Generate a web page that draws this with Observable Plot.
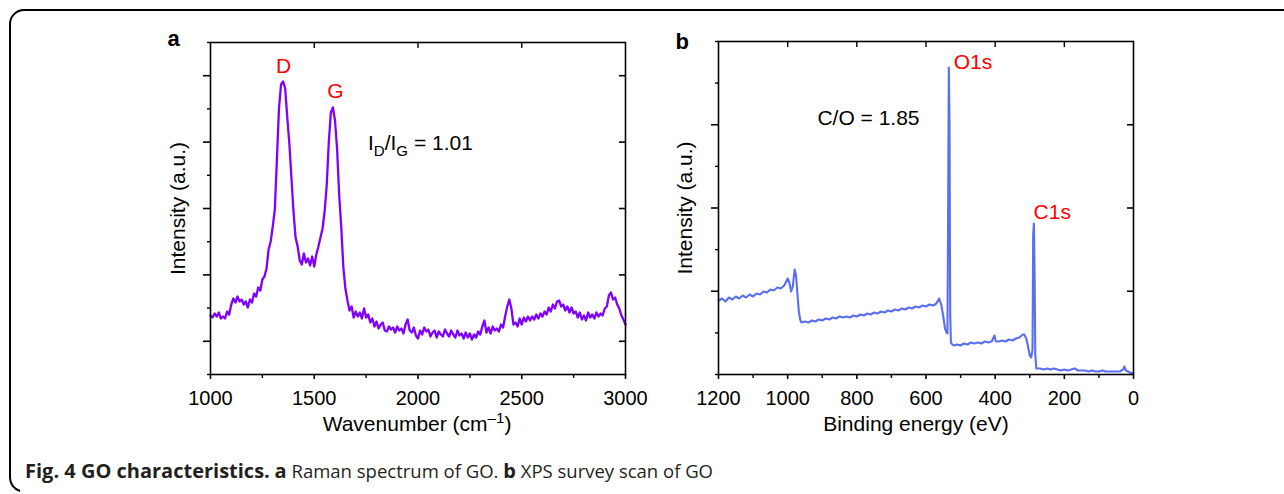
<!DOCTYPE html>
<html>
<head>
<meta charset="utf-8">
<script src="https://cdn.jsdelivr.net/npm/d3@7"></script>
<script src="https://cdn.jsdelivr.net/npm/@observablehq/plot@0.6"></script>
<style>
  html, body { margin: 0; padding: 0; background: #fff; }
  #wrap { position: relative; width: 1284px; height: 494px; overflow: hidden; background: #fff; }
  #frame { position: absolute; left: 0; top: 0; }
  .panel { position: absolute; top: 0; }
  #caption { position: absolute; left: 25px; top: 461px; line-height: 20px; font-family: "Open Sans", sans-serif; font-size: 18.5px; color: #231f20; white-space: nowrap; }
  #caption b { font-weight: 700; font-size: 20px; }
</style>
</head>
<body>
<div id="wrap">
  <svg id="frame" width="1284" height="494"><path d="M1290,10 H24 A14,14 0 0 0 10,24 V478 A14,14 0 0 0 20,491" fill="none" stroke="#000" stroke-width="2"/></svg>
  <div id="panelA" class="panel" style="left:0px"></div>
  <div id="panelB" class="panel" style="left:650px"></div>
  <div id="caption"><b>Fig. 4 GO characteristics.</b> <b>a</b> Raman spectrum of GO. <b>b</b> XPS survey scan of GO</div>
</div>
<script>
// ---------- Panel a: Raman spectrum ----------
const ramanWavenumber = [
  1000,1010,1020,1030,1040,1050,1060,1070,1080,1090,1100,1110,1120,1130,1140,1150,1160,1170,1180,1190,
  1200,1210,1220,1230,1240,1250,1260,1270,1280,1290,1300,1310,1320,1330,1340,1350,1360,1370,1380,1390,
  1400,1410,1420,1430,1440,1450,1460,1470,1480,1490,1500,1510,1520,1530,1540,1550,1560,1570,1580,1590,
  1600,1610,1620,1630,1640,1650,1660,1670,1680,1690,1700,1710,1720,1730,1740,1750,1760,1770,1780,1790,
  1800,1810,1820,1830,1840,1850,1860,1870,1880,1890,1900,1910,1920,1930,1940,1950,1960,1970,1980,1990,
  2000,2010,2020,2030,2040,2050,2060,2070,2080,2090,2100,2110,2120,2130,2140,2150,2160,2170,2180,2190,
  2200,2210,2220,2230,2240,2250,2260,2270,2280,2290,2300,2310,2320,2330,2340,2350,2360,2370,2380,2390,
  2400,2410,2420,2430,2440,2450,2460,2470,2480,2490,2500,2510,2520,2530,2540,2550,2560,2570,2580,2590,
  2600,2610,2620,2630,2640,2650,2660,2670,2680,2690,2700,2710,2720,2730,2740,2750,2760,2770,2780,2790,
  2800,2810,2820,2830,2840,2850,2860,2870,2880,2890,2900,2910,2920,2930,2940,2950,2960,2970,2980,2990,
  3000
];
const ramanIntensity = [
  59,57,61,58,62,56,58,56,63,60,70,76,72,78,73,75,70,73,67,75,
  72,81,78,87,84,95,98,106,125,133,148,165,215,266,290,293,286,257,231,197,
  163,137,128,114,110,121,112,116,109,118,108,120,128,137,146,163,189,232,262,267,
  254,226,180,148,108,86,74,64,68,57,63,58,62,56,66,57,60,52,56,48,
  53,46,50,52,44,43,48,45,47,42,48,44,46,41,50,55,44,42,47,39,
  36,44,40,47,43,45,38,42,44,37,43,40,38,45,41,38,44,40,37,44,
  39,41,36,42,37,41,35,40,37,43,40,48,54,42,47,41,48,44,46,43,
  50,47,58,68,75,66,50,52,48,56,50,57,53,58,54,58,55,60,56,61,
  58,63,60,67,63,70,66,73,74,68,70,64,68,62,67,61,63,57,62,55,
  59,54,62,57,60,56,62,58,61,59,66,68,79,82,75,77,70,66,59,55,
  50
];
const ramanXTicks = [1000, 1500, 2000, 2500, 3000];
const ramanXMinor = [1250, 1750, 2250, 2750];
const ramanXTop = [1500, 2000, 2500];
const ramanYMajor = [33.2, 99.6, 166, 232.4, 298.8];
const ramanYMinor = [0, 66.4, 132.8, 199.2, 265.6, 332];
const ramanPeakLabels = ["D", "G"];
const ramanPeakX = [1352, 1602];
const ramanPeakY = [302, 277];

// ---------- Panel b: XPS survey ----------
const xpsEnergy = [
  1200,1190,1180,1170,1160,1150,1140,1130,1120,1110,1100,1090,1080,1070,1060,1050,1040,1030,1020,1010,
  1000,995,990,985,980,976,972,968,964,960,950,940,930,920,910,900,890,880,870,860,
  850,840,830,820,810,800,790,780,770,760,750,740,730,720,710,700,690,680,670,660,
  650,640,630,620,610,600,590,580,570,562,556,550,545,541,538,536,534,532,530,528,
  524,520,510,500,490,480,470,460,450,440,430,420,410,402,398,390,380,370,360,350,
  340,330,320,316,310,305,300,296,292,290,288,286,284,281,270,260,250,240,230,220,
  210,200,190,180,170,160,150,140,130,120,110,100,90,80,70,60,50,40,30,26,
  22,10,0
];
const xpsIntensity = [
  74,76,73,77,75,78,76,79,77,80,78,81,80,83,82,85,84,87,86,89,
  96,92,83,88,105,100,82,64,55,52,53,52,54,53,55,54,56,55,57,56,
  58,57,58,57,59,58,60,59,61,60,62,61,63,62,64,63,65,64,66,65,
  67,66,68,67,69,68,70,69,71,76,70,58,46,42,41,160,307,250,60,32,
  30,29,30,29,31,30,32,31,32,31,33,32,33,39,33,33,34,33,35,34,
  36,37,40,40,36,28,19,17,25,140,151,100,20,6,6,5,6,5,6,5,
  4,5,4,5,6,4,4,4,3,4,3,3,4,3,3,3,3,3,5,8,
  4,2,1
];
const xpsXTicks = [1200, 1000, 800, 600, 400, 200, 0];
const xpsXMinor = [1100, 900, 700, 500, 300, 100];
const xpsXTop = [1000, 800, 600, 400, 200];
const xpsYMajor = [83.25, 166.5, 249.75];
const xpsYMinor = [0, 41.6, 124.9, 208.1, 291.4, 333];
const xpsPeakLabels = ["O1s", "C1s"];
const xpsPeakX = [520, 289];
const xpsPeakY = [306, 156];

const FONT = "'Liberation Sans', Arial, Helvetica, sans-serif";
const none = () => "";

function richText(svg, x, y, parts, {fontSize = 21, fill = "#000", anchor = "start", weight = "normal"} = {}) {
  const t = d3.select(svg).append("text")
    .attr("x", x).attr("y", y)
    .attr("text-anchor", anchor)
    .attr("font-family", FONT)
    .attr("font-size", fontSize)
    .attr("font-weight", weight)
    .attr("fill", fill);
  let shift = 0;
  for (const p of parts) {
    const ts = t.append("tspan").text(p.t);
    const target = p.sub ? 6 : p.sup ? -8 : 0;
    if (target !== shift) { ts.attr("dy", target - shift); shift = target; }
    if (p.sub || p.sup) ts.attr("font-size", fontSize * 0.72);
  }
  return t;
}

function frameAxes(xMajor, xMinor, xTop, yMajor, yMinor) {
  return [
    Plot.frame({stroke: "#000", strokeWidth: 1.6}),
    Plot.axisX({anchor: "bottom", ticks: xMajor, tickSize: 5, tickPadding: 11, strokeWidth: 1.6, tickFormat: d => String(d), label: null, fontSize: 20}),
    Plot.axisX({anchor: "bottom", ticks: xMinor, tickSize: 4, strokeWidth: 1.4, tickFormat: none, label: null}),
    Plot.axisX({anchor: "top", ticks: xTop, tickSize: 5, dy: 5, strokeWidth: 1.4, tickFormat: none, label: null}),
    Plot.axisY({anchor: "left", ticks: yMajor, tickSize: 7, strokeWidth: 1.6, tickFormat: none, label: null}),
    Plot.axisY({anchor: "left", ticks: yMinor, tickSize: 3, strokeWidth: 1.4, tickFormat: none, label: null}),
    Plot.axisY({anchor: "right", ticks: yMajor, tickSize: 7, dx: -7, strokeWidth: 1.6, tickFormat: none, label: null})
  ];
}

// Panel a
const ramanData = ramanWavenumber.map((w, i) => ({w, v: ramanIntensity[i]}));
const ramanLabels = ramanPeakLabels.map((t, i) => ({t, x: ramanPeakX[i], y: ramanPeakY[i]}));
const plotA = Plot.plot({
  width: 640, height: 440,
  marginLeft: 210, marginRight: 15, marginTop: 42, marginBottom: 66,
  x: {domain: [1000, 3000]},
  y: {domain: [0, 332]},
  style: {fontFamily: FONT, fontSize: "20px", color: "#000", background: "transparent", overflow: "visible"},
  marks: [
    Plot.line(ramanData, {x: "w", y: "v", stroke: "#7f00ff", strokeWidth: 2.3, strokeLinejoin: "round"}),
    ...frameAxes(ramanXTicks, ramanXMinor, ramanXTop, ramanYMajor, ramanYMinor),
    Plot.text(ramanLabels, {x: "x", y: "y", text: "t", fill: "#ff0000", fontSize: 21, lineAnchor: "bottom"}),
    Plot.text(["Intensity (a.u.)"], {frameAnchor: "left", textAnchor: "middle", rotate: -90, dx: -32, fontSize: 21}),
    Plot.text(["a"], {frameAnchor: "top-left", dx: -43, dy: 3, fontSize: 22, fontWeight: "bold", lineAnchor: "bottom"})
  ]
});
document.getElementById("panelA").appendChild(plotA);
{
  const sx = plotA.scale("x"), sy = plotA.scale("y");
  richText(plotA, sx.apply(1761), sy.apply(224), [{t: "I"}, {t: "D", sub: true}, {t: "/I"}, {t: "G", sub: true}, {t: " = 1.01"}], {fontSize: 21});
  richText(plotA, 417, 431, [{t: "Wavenumber (cm"}, {t: "\u20131", sup: true}, {t: ")"}], {fontSize: 21, anchor: "middle"});
}

// Panel b
const xpsData = xpsEnergy.map((e, i) => ({e, v: xpsIntensity[i]}));
const xpsLabels = xpsPeakLabels.map((t, i) => ({t, x: xpsPeakX[i], y: xpsPeakY[i]}));
const plotB = Plot.plot({
  width: 500, height: 440,
  marginLeft: 68, marginRight: 17, marginTop: 41, marginBottom: 66,
  x: {domain: [1200, 0]},
  y: {domain: [0, 333]},
  style: {fontFamily: FONT, fontSize: "20px", color: "#000", background: "transparent", overflow: "visible"},
  marks: [
    Plot.line(xpsData, {x: "e", y: "v", stroke: "#5a6ef2", strokeWidth: 2.1, strokeLinejoin: "round"}),
    ...frameAxes(xpsXTicks, xpsXMinor, xpsXTop, xpsYMajor, xpsYMinor),
    Plot.text(xpsLabels, {x: "x", y: "y", text: "t", fill: "#ff0000", fontSize: 21, lineAnchor: "bottom", textAnchor: "start"}),
    Plot.text(["C/O = 1.85"], {x: [914], y: [250], fontSize: 21, lineAnchor: "bottom", textAnchor: "start"}),
    Plot.text(["Intensity (a.u.)"], {frameAnchor: "left", textAnchor: "middle", rotate: -90, dx: -33, fontSize: 21}),
    Plot.text(["b"], {frameAnchor: "top-left", dx: -43, dy: 7, fontSize: 22, fontWeight: "bold", lineAnchor: "bottom"})
  ]
});
document.getElementById("panelB").appendChild(plotB);
richText(plotB, 266, 431, [{t: "Binding energy (eV)"}], {fontSize: 21, anchor: "middle"});
</script>
</body>
</html>
